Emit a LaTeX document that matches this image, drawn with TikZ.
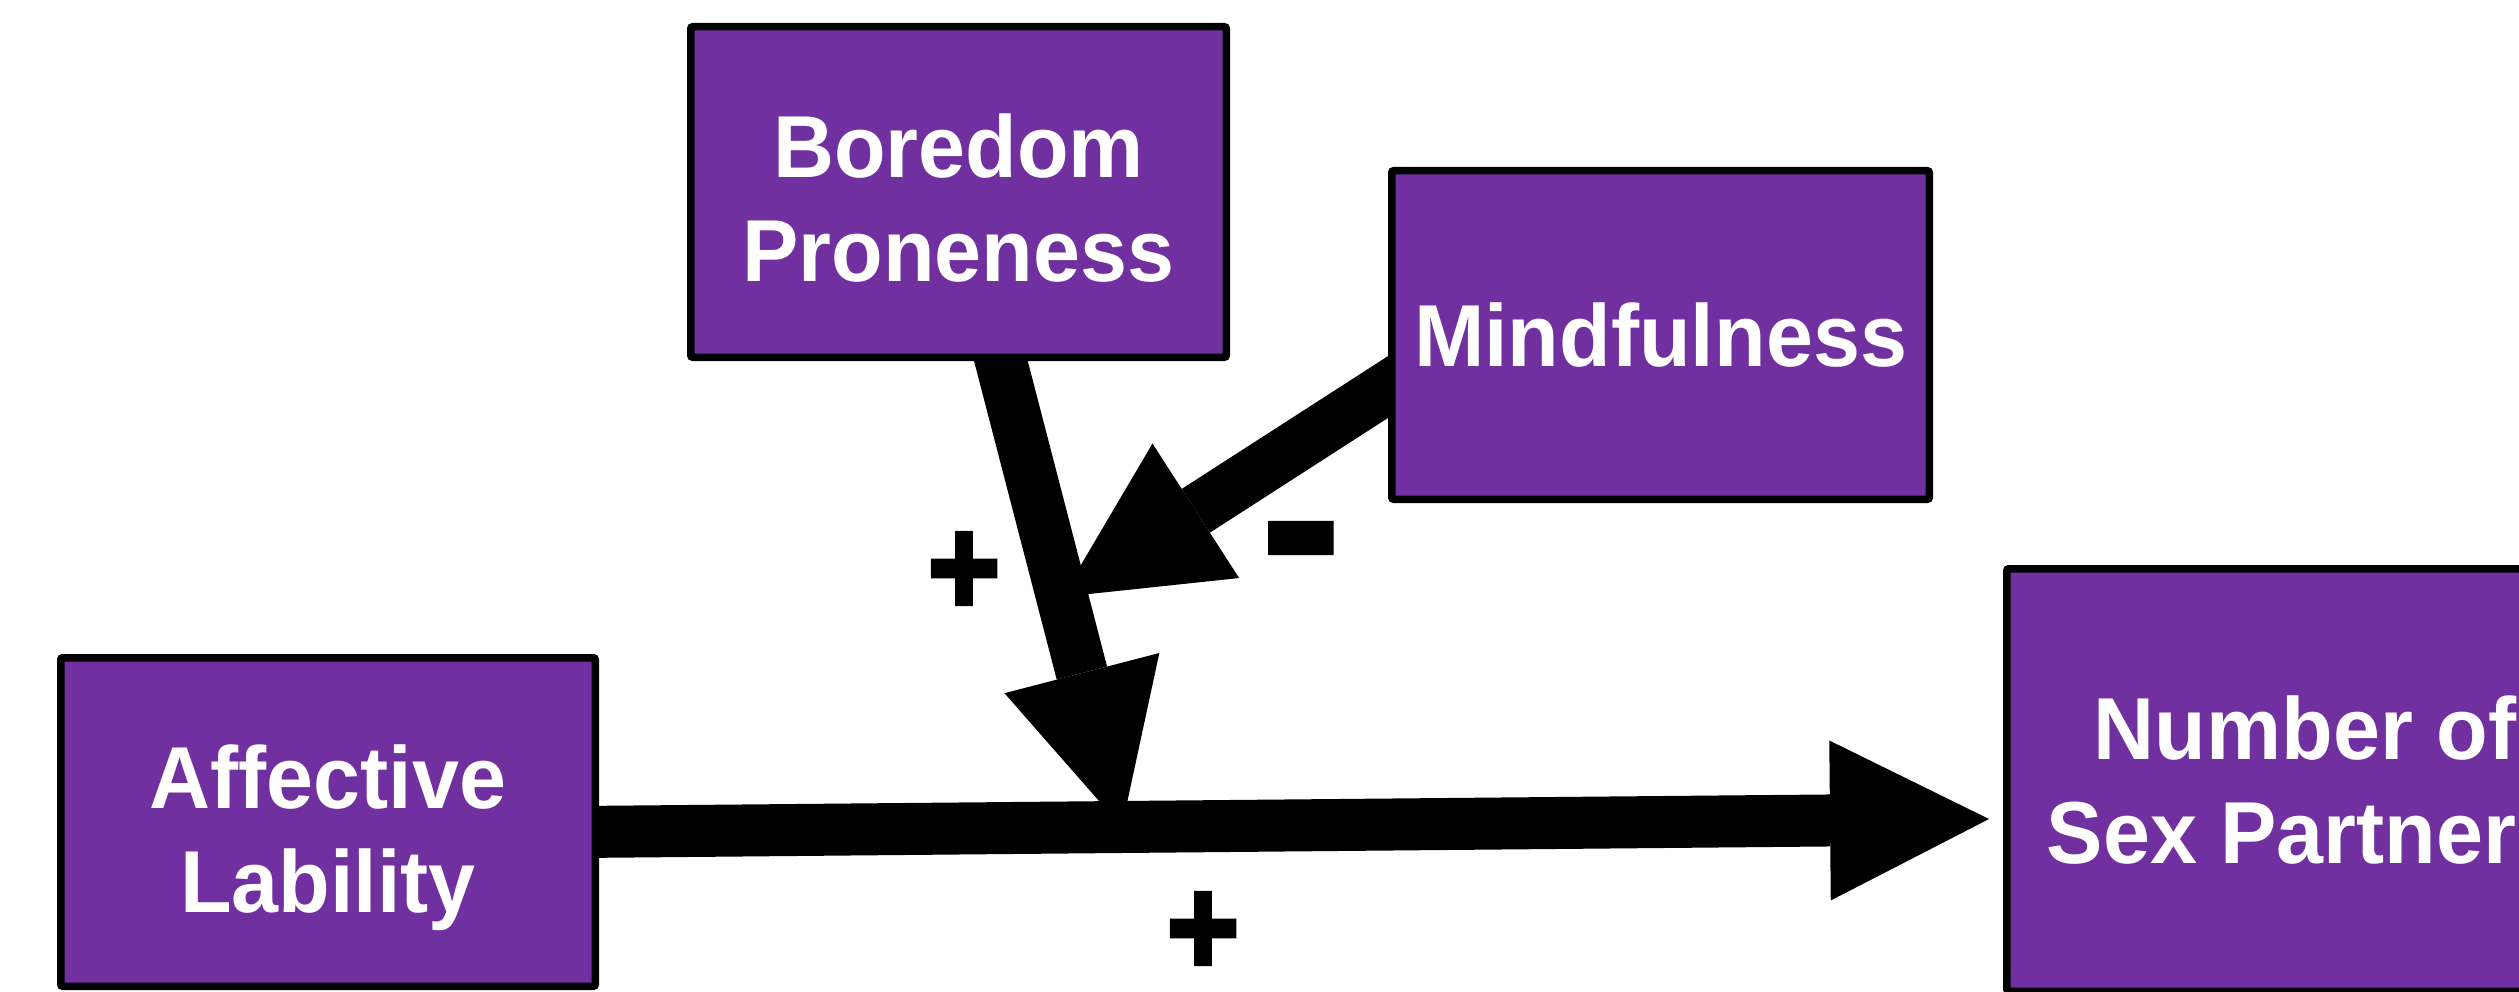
\documentclass[tikz,border=0pt]{standalone}
\usepackage{fontspec}
\setmainfont{Liberation Sans}
\newfontface\boxfont{Liberation Sans Bold}[FakeStretch=0.96]
\newfontface\signfont{Liberation Sans Bold}[FakeBold=3]
\usetikzlibrary{arrows.meta,calc,backgrounds}
\definecolor{boxpurple}{RGB}{112,48,160}
\begin{document}
\begin{tikzpicture}[x=1pt,y=-1pt,
  box/.style={draw=black, line width=7.5pt, fill=boxpurple, rounded corners=2pt,
    text=white, font=\boxfont\fontsize{88}{104}\selectfont, align=center, inner sep=0pt},
  flow/.style={line width=52pt, -{Triangle[length=159pt,width=160pt,line width=0pt]}},
  sign/.style={text=black, inner sep=0pt}]
\useasboundingbox (0,0) rectangle (2519,992);
\clip (0,0) rectangle (2519,992);

\node[box, minimum width=535.5pt, minimum height=330.5pt, text height=180pt, text depth=0pt] (bor) at (958.5,192) {Boredom\\Proneness};
\node[box, minimum width=537.5pt, minimum height=328.5pt] (mind) at (1660.5,335) {Mindfulness};
\node[box, minimum width=534.5pt, minimum height=328.5pt, text height=180pt, text depth=0pt] (aff) at (328,822) {Affective\\Lability};
\node[box, minimum width=596.5pt, minimum height=422.5pt] (num) at (2305,780) {Number of\\Sex Partners};

\coordinate (mS) at ($(aff.east)+(-20,10)$);
\coordinate (mT) at ($(num.west)+(-14,39)$);
\coordinate (jA) at ($(mS)!0.385!(mT)$);
\coordinate (bS) at ($(bor.south)+(31.5,-42)$);
\coordinate (jB) at ($(bS)!0.547!(jA)$);
\coordinate (fS) at ($(mind.west)+(28,34)$);

\begin{scope}[on background layer]
  \draw[flow] (bS) -- (jA);
  \draw[flow] (fS) -- (jB);
  \draw[flow] (mS) -- (mT);
\end{scope}

\node[sign, font=\signfont\fontsize{125}{125}\selectfont] (p1) at (964,574) {\scalebox{1}[1.12]{+}};
\node[sign, font=\signfont\fontsize{125}{125}\selectfont] (p2) at (1203,934) {\scalebox{1}[1.12]{+}};
\node[sign, font=\signfont\fontsize{230}{230}\selectfont] (m1) at (1301,561) {-};
\end{tikzpicture}
\end{document}
